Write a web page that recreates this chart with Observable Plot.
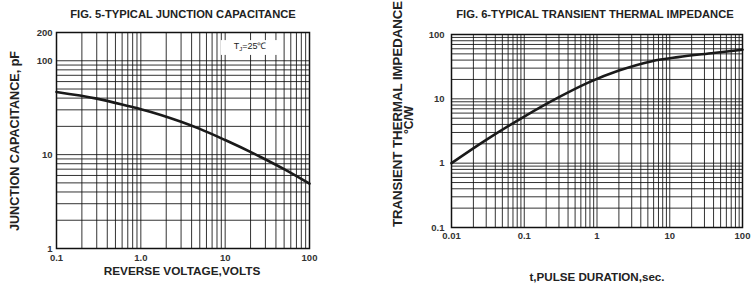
<!DOCTYPE html>
<html><head><meta charset="utf-8">
<script src="https://cdn.jsdelivr.net/npm/d3@7"></script>
<script src="https://cdn.jsdelivr.net/npm/@observablehq/plot@0.6"></script>
<style>
html,body{margin:0;padding:0;background:#fff;}
body{font-family:"Liberation Sans",Arial,sans-serif;}
#wrap{position:relative;width:755px;height:289px;overflow:hidden;background:#fff;}
#wrap svg{position:absolute;top:0;}
.t{position:absolute;font-weight:bold;color:#222;white-space:nowrap;transform:translate(-50%,-50%);line-height:1;}
.rot{transform:translate(-50%,-50%) rotate(-90deg);}
</style></head>
<body><div id="wrap"></div>
<script>
// ---- Fig. 5 data ----
const capVoltage = [0.1, 0.3, 0.75, 1, 3, 5, 10, 26, 50, 100];
const capValue   = [46.5, 39.5, 32.5, 30.5, 22.4, 18.8, 14.3, 9.5, 7, 4.9];
const capXTicks  = [0.1, 1, 10, 100];
const capXLabels = ["0.1", "1.0", "10", "100"];
const capYTicks  = [1, 10, 100, 200];
const capYLabels = ["1", "10", "100", "200"];
const noteVoltage = [9, 45];      // annotation box extent (volts)
const noteCap     = [114, 164];   // annotation box extent (pF)
const noteAt      = [20, 138];    // annotation text anchor (V, pF)
const noteText    = ["T", "J", "=25\u2103"];

// ---- Fig. 6 data ----
const thermTime  = [0.01, 0.03, 0.1, 0.3, 0.77, 2, 5.7, 13, 40, 100];
const thermZ     = [1, 2.3, 5.3, 10.6, 18, 27.5, 38.5, 44.5, 51.5, 58];
const thermXTicks  = [0.01, 0.1, 1, 10, 100];
const thermXLabels = ["0.01", "0.1", "1", "10", "100"];
const thermYTicks  = [0.1, 1, 10, 100];
const thermYLabels = ["0.1", "1", "10", "100"];

const FONT = "Liberation Sans, Arial, sans-serif";
const gridStyle = {stroke: "#111", strokeOpacity: 0.85, strokeWidth: 1};
const tickStyle = {tickSize: 0, fontWeight: "bold", fill: "#333", label: null};

const capData = capVoltage.map((v, i) => ({v, c: capValue[i]}));
const thermData = thermTime.map((t, i) => ({t, z: thermZ[i]}));

const left = Plot.plot({
  width: 320, height: 289,
  marginLeft: 56, marginRight: 11, marginTop: 32, marginBottom: 41,
  style: {fontFamily: FONT, background: "transparent", overflow: "visible"},
  x: {type: "log", domain: [0.1, 100]},
  y: {type: "log", domain: [1, 200]},
  marks: [
    Plot.gridX(d3.scaleLog().domain([0.1, 100]).ticks(), gridStyle),
    Plot.gridY(d3.scaleLog().domain([1, 200]).ticks(), gridStyle),
    Plot.rect([0], {x1: () => noteVoltage[0], x2: () => noteVoltage[1], y1: () => noteCap[0], y2: () => noteCap[1], fill: "#fff"}),
    Plot.line(capData, {x: "v", y: "c", curve: "monotone-x", stroke: "#1a1a1a", strokeWidth: 2.6}),
    Plot.frame({stroke: "#111", strokeWidth: 1.5}),
    Plot.axisX(capXTicks, {...tickStyle, tickFormat: d => capXLabels[capXTicks.indexOf(d)], tickPadding: 6, fontSize: 9.5}),
    Plot.axisY(capYTicks, {...tickStyle, tickFormat: d => capYLabels[capYTicks.indexOf(d)], tickPadding: 4, fontSize: 9.5})
  ]
});
left.style.left = "0px";

const right = Plot.plot({
  width: 375, height: 289,
  marginLeft: 71, marginRight: 13, marginTop: 34, marginBottom: 62,
  style: {fontFamily: FONT, background: "transparent", overflow: "visible"},
  x: {type: "log", domain: [0.01, 100]},
  y: {type: "log", domain: [0.1, 100]},
  marks: [
    Plot.gridX(d3.scaleLog().domain([0.01, 100]).ticks(), gridStyle),
    Plot.gridY(d3.scaleLog().domain([0.1, 100]).ticks(), gridStyle),
    Plot.line(thermData, {x: "t", y: "z", curve: "monotone-x", stroke: "#1a1a1a", strokeWidth: 2.6}),
    Plot.frame({stroke: "#111", strokeWidth: 1.5}),
    Plot.axisX(thermXTicks, {...tickStyle, tickFormat: d => thermXLabels[thermXTicks.indexOf(d)], tickPadding: 5, fontSize: 9.5}),
    Plot.axisY(thermYTicks, {...tickStyle, tickFormat: d => thermYLabels[thermYTicks.indexOf(d)], tickPadding: 7, fontSize: 9.5})
  ]
});
right.style.left = "380px";

const wrap = document.getElementById("wrap");
wrap.appendChild(left);
wrap.appendChild(right);

// annotation text placed through the chart's own scales
const sx = left.scale("x"), sy = left.scale("y");
const svgL = d3.select(left);
const note = svgL.append("text")
  .attr("x", sx.apply(noteAt[0])).attr("y", sy.apply(noteAt[1]))
  .attr("text-anchor", "middle").attr("dominant-baseline", "middle")
  .attr("font-family", FONT).attr("font-size", 9).attr("fill", "#222");
note.append("tspan").text(noteText[0]);
note.append("tspan").attr("font-size", 6).attr("dy", 1.5).text(noteText[1]);
note.append("tspan").attr("dy", -1.5).text(noteText[2]);

// titles and axis labels
const labels = [
  {text: "FIG. 5-TYPICAL JUNCTION CAPACITANCE", x: 183, y: 15, size: 11.2},
  {text: "REVERSE VOLTAGE,VOLTS", x: 182, y: 272, size: 11.8},
  {text: "JUNCTION CAPACITANCE, pF", x: 15, y: 141, size: 12.6, rot: true},
  {text: "FIG. 6-TYPICAL TRANSIENT THERMAL IMPEDANCE", x: 595, y: 15, size: 11.2},
  {text: "t,PULSE DURATION,sec.", x: 597, y: 277, size: 11.6},
  {text: "TRANSIENT THERMAL IMPEDANCE", x: 398, y: 114, size: 13.2, rot: true},
  {text: "\u00B0C/W", x: 409, y: 120, size: 12, rot: true}
];
for (const l of labels) {
  const d = document.createElement("div");
  d.className = "t" + (l.rot ? " rot" : "");
  d.textContent = l.text;
  d.style.left = l.x + "px";
  d.style.top = l.y + "px";
  d.style.fontSize = l.size + "px";
  wrap.appendChild(d);
}
</script>
</body></html>
